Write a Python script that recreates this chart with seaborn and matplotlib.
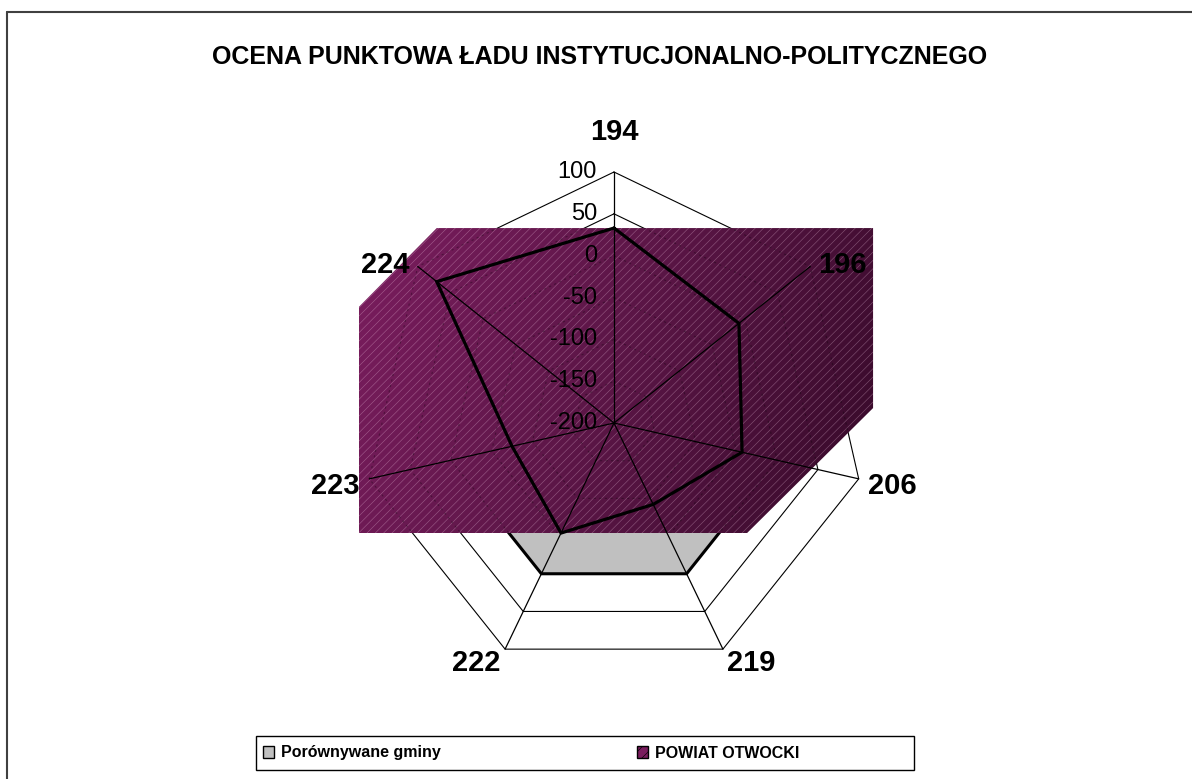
import numpy as np
import matplotlib
matplotlib.use("Agg")
import matplotlib.pyplot as plt
import seaborn as sns
from matplotlib.patches import Polygon, Patch, Rectangle
from matplotlib.lines import Line2D
from matplotlib.colors import LinearSegmentedColormap

# ---------------- data ----------------
categories = ["194", "196", "206", "219", "222", "223", "224"]
gminy_values = [0, 0, 0, 0, 0, 0, 0]
powiat_values = [33, -9, -43, -92, -54, -75, 71]
tick_values = [-200, -150, -100, -50, 0, 50, 100]
series_names = ["Porównywane gminy", "POWIAT OTWOCKI"]
title = "OCENA PUNKTOWA ŁADU INSTYTUCJONALNO-POLITYCZNEGO"

sns.set_theme(style="white")
plt.rcParams["font.family"] = ["Liberation Sans", "DejaVu Sans"]
plt.rcParams["text.color"] = "black"
plt.rcParams["hatch.linewidth"] = 0.45

W, H = 1192, 779
fig = plt.figure(figsize=(W / 100, H / 100), dpi=100)
fig.patch.set_facecolor("white")

cx, cy = 614, 423          # centre of radar in pixels
R = 251                    # radius of outer ring in pixels
vmin, vmax = tick_values[0], tick_values[-1]
k = R / (vmax - vmin)      # pixels per unit

ax = fig.add_axes([0, 0, 1, 1])
ax.set_xlim(-cx / k, (W - cx) / k)
ax.set_ylim(-(H - cy) / k, cy / k)
ax.axis("off")

n = len(categories)
theta = np.arange(n) * 2 * np.pi / n


def xy(vals):
    r = np.asarray(vals, float) - vmin
    return r * np.sin(theta), r * np.cos(theta)


def closed(a):
    return np.append(a, a[0])


# rings (under everything)
for t in tick_values[1:]:
    gx, gy = xy([t] * n)
    ax.plot(closed(gx), closed(gy), color="black", lw=0.8, zorder=1)

# comparison series (grey)
gx, gy = xy(gminy_values)
ax.fill(closed(gx), closed(gy), facecolor="#c0c0c0", edgecolor="black", lw=2.2, zorder=2)

# POWIAT series fill (rendered as extruded box as in the original)
px, py = xy(powiat_values)
xmin, xmax = px.min(), px.max()
top, bot = py.max(), py.min()
hexv = np.array([
    (xmin, top),
    (xmax + 131 / k, top),
    (xmax + 131 / k, top - 180 / k),
    (xmax + 5 / k, bot),
    (xmin - 78 / k, bot),
    (xmin - 78 / k, top - 79 / k),
])
clip = Polygon(hexv, closed=True, facecolor="none", edgecolor="none", transform=ax.transData)
ax.add_patch(clip)
ex0, ex1 = hexv[:, 0].min(), hexv[:, 0].max()
ey0, ey1 = hexv[:, 1].min(), hexv[:, 1].max()
gxx, gyy = np.meshgrid(np.linspace(0, 1, 200), np.linspace(0, 1, 200))
grad = np.clip(0.85 * gxx + 0.2 * gyy, 0, 1)
cmap = LinearSegmentedColormap.from_list("pur", ["#7a1d5e", "#5c1647", "#3a0b2c"])
im = ax.imshow(grad, extent=(ex0, ex1, ey0, ey1), origin="upper", cmap=cmap,
               aspect="auto", zorder=3, interpolation="bilinear", vmin=0, vmax=1)
im.set_clip_path(clip)
hatch = Polygon(hexv, closed=True, facecolor="none", edgecolor=(1, 0.85, 0.95, 0.32),
                lw=0, hatch="////", zorder=3.1)
ax.add_patch(hatch)

# faint rings seen through the fill
for t in tick_values[1:]:
    rx, ry = xy([t] * n)
    ln, = ax.plot(closed(rx), closed(ry), color="black", lw=0.8, alpha=0.3,
                  ls=(0, (2, 3)), zorder=3.2)
    ln.set_clip_path(clip)

# spokes
ox, oy = xy([vmax] * n)
for x1, y1 in zip(ox, oy):
    ax.plot([0, x1], [0, y1], color="black", lw=0.9, zorder=4)

# POWIAT outline
ax.plot(closed(px), closed(py), color="black", lw=2.3, zorder=5,
        solid_joinstyle="miter")

# tick labels
for t in tick_values:
    ax.text(-17 / k, t - vmin, str(t), ha="right", va="center", fontsize=17,
            color="black", zorder=6)

# category labels
for cat, th, x1, y1 in zip(categories, theta, ox, oy):
    s, c = np.sin(th), np.cos(th)
    if abs(s) < 0.1:
        ax.text(x1, y1 + 26 / k, cat, ha="center", va="bottom", fontsize=21,
                fontweight="bold", zorder=6)
    else:
        ha = "left" if s > 0 else "right"
        ax.text(x1 + 10 * s / k, y1 + 10 * c / k - 5 / k, cat, ha=ha, va="center",
                fontsize=21, fontweight="bold", zorder=6)

# title
fig.text(600 / W, 1 - 57 / H, title, ha="center", va="center", fontsize=18,
         fontweight="bold")

# outer frame (left and top edges visible)
fig.add_artist(Line2D([7 / W, 7 / W], [0, 1 - 12 / H], transform=fig.transFigure,
                      color="#404040", lw=1.5))
fig.add_artist(Line2D([7 / W, 1], [1 - 12 / H, 1 - 12 / H], transform=fig.transFigure,
                      color="#404040", lw=1.5))

# legend frame
fig.add_artist(Rectangle((256 / W, 1 - 770 / H), (914 - 256) / W, 34 / H,
                         transform=fig.transFigure, facecolor="white",
                         edgecolor="black", lw=1.0))
handles = [
    Patch(facecolor="#c0c0c0", edgecolor="black", lw=1.0),
    Patch(facecolor="#7a1d5e", edgecolor="black", lw=1.0, hatch="///"),
]
leg = fig.legend(handles=handles, labels=series_names, loc="center left",
                 bbox_to_anchor=(252 / W, 1 - 753 / H), ncol=2, frameon=False,
                 prop={"weight": "bold", "size": 11.5}, handlelength=0.7,
                 handleheight=0.7, handletextpad=0.4, columnspacing=12.3,
                 borderpad=0.2)
leg.set_zorder(10)

fig.savefig("out.png", dpi=100)
